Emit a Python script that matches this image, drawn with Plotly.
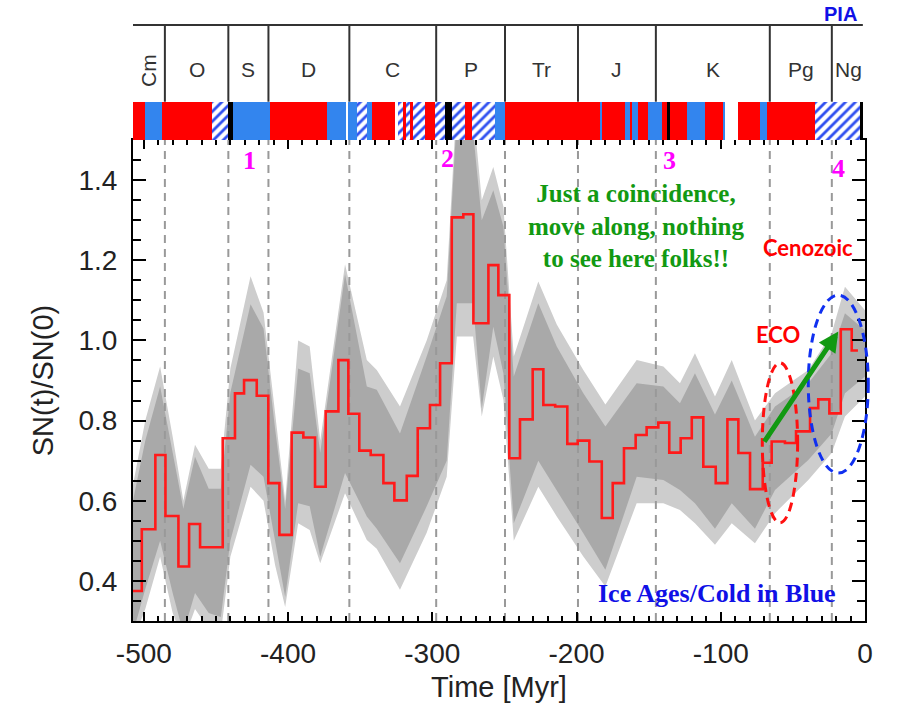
import plotly.graph_objects as go

# ---------------- data ----------------
# step curve SN(t)/SN(0): bin edges (Myr) and values
step_edges = [-507.5, -501.4, -492, -485, -476, -468.6, -461, -445.3, -436.8, -430.5,
              -421.7, -413.7, -406, -397.5, -389.4, -381.3, -373.9, -365.1, -358.2, -350.6,
              -342.7, -333.9, -326.3, -317.7, -310.1, -301.6, -294.6, -286.5, -278.5, -271.5,
              -261.1, -254.2, -246.6, -239.2, -230.4, -223, -214.8, -206.4, -199.2, -191.1,
              -182.5, -174.9, -167.1, -159, -151.4, -143.3, -135.7, -127.8, -120.1, -112.1,
              -103.5, -95.4, -87.8, -79.7, -70.9, -64.7, -55.5, -47.8, -38.1, -32.4,
              -24.7, -16.8, -9.2, -4.9]
step_values = [0.375, 0.529, 0.714, 0.562, 0.436, 0.542, 0.484, 0.756, 0.868, 0.901,
               0.862, 0.644, 0.515, 0.770, 0.758, 0.635, 0.823, 0.951, 0.817, 0.725,
               0.714, 0.644, 0.601, 0.662, 0.781, 0.839, 0.943, 1.307, 1.315, 1.043,
               1.188, 1.113, 0.706, 0.803, 0.928, 0.839, 0.835, 0.742, 0.750, 0.698,
               0.557, 0.644, 0.731, 0.764, 0.783, 0.795, 0.720, 0.756, 0.808, 0.685,
               0.644, 0.803, 0.719, 0.629, 0.695, 0.748, 0.744, 0.773, 0.831, 0.853,
               0.818, 1.028, 0.975]

# uncertainty envelopes
band_t = [-507.5, -499, -488.7, -480, -472.6, -464.5, -455, -446.6, -440, -426,
          -417, -409, -402, -393, -385, -377.7, -360.5, -345.4, -338.5, -322.4,
          -303.9, -290, -283, -271.7, -265.7, -257.7, -250.7, -243.5, -226.5, -213.7,
          -195.3, -180, -158.3, -139.8, -128.3, -117.9, -104, -92.4, -76.3, -62.4,
          -39.3, -23.1, -13.9, 0]
light_upper = [0.64, 0.80, 0.935, 0.76, 0.60, 0.74, 0.68, 0.68, 0.93, 1.16,
               1.07, 0.82, 0.60, 1.00, 0.985, 0.75, 1.19, 0.951, 0.926, 0.835,
               1.00, 1.15, 1.60, 1.58, 1.35, 1.433, 1.334, 0.96, 1.147, 1.04,
               0.926, 0.84, 0.951, 0.935, 0.893, 0.968, 0.86, 0.951, 0.80, 0.868,
               0.926, 1.018, 1.134, 1.075]
dark_upper = [0.60, 0.75, 0.885, 0.72, 0.58, 0.71, 0.63, 0.63, 0.87, 1.09,
              1.03, 0.78, 0.58, 0.93, 0.918, 0.72, 1.165, 0.885, 0.877, 0.768,
              0.96, 1.11, 1.56, 1.52, 1.30, 1.375, 1.284, 0.91, 1.093, 0.985,
              0.868, 0.785, 0.893, 0.885, 0.843, 0.918, 0.815, 0.90, 0.76, 0.835,
              0.893, 0.968, 1.068, 1.025]
dark_lower = [0.27, 0.38, 0.50, 0.37, 0.27, 0.37, 0.32, 0.31, 0.50, 0.69,
              0.66, 0.50, 0.36, 0.594, 0.586, 0.46, 0.669, 0.561, 0.53, 0.444,
              0.586, 0.70, 1.093, 1.093, 0.83, 1.034, 0.918, 0.544, 0.70, 0.627,
              0.519, 0.428, 0.66, 0.652, 0.627, 0.594, 0.53, 0.594, 0.53, 0.627,
              0.702, 0.768, 0.868, 0.91]
light_lower = [0.25, 0.33, 0.46, 0.32, 0.25, 0.33, 0.28, 0.27, 0.46, 0.635,
               0.60, 0.44, 0.335, 0.544, 0.527, 0.444, 0.619, 0.502, 0.48, 0.378,
               0.52, 0.66, 1.01, 1.01, 0.81, 0.96, 0.852, 0.50, 0.635, 0.561,
               0.461, 0.386, 0.594, 0.594, 0.577, 0.544, 0.49, 0.544, 0.494, 0.569,
               0.652, 0.719, 0.81, 0.86]

# geological periods
period_bounds = [-485.4, -441.4, -413.6, -357.5, -297.3, -249.6, -199.0, -145.0, -66.0, -23.0]
period_names = ["Cm", "O", "S", "D", "C", "P", "Tr", "J", "K", "Pg", "Ng"]

# climate band: w = warm (red), c = cold (blue), h = ice (hatched), k = black, n = none
clim_start = [-507.5, -499.0, -487.6, -452.9, -441.4, -437.9, -412.5, -373.2, -359.3, -358.4,
              -352.2, -345.2, -341.8, -325.8, -323.7, -320.3, -318.2, -315.4, -313.4, -305.0,
              -298.1, -291.2, -286.5, -277.3, -272.7, -256.5, -249.6, -183.7, -182.5, -166.4,
              -162.9, -161.8, -157.2, -150.2, -141.0, -137.5, -135.2, -123.6, -110.9, -98.2,
              -97.0, -87.8, -72.8, -68.1, -34.7, -3.5]
clim_end = [-499.0, -487.6, -452.9, -441.4, -437.9, -412.5, -373.2, -359.3, -358.4, -352.2,
            -345.2, -341.8, -325.8, -323.7, -320.3, -318.2, -315.4, -313.4, -305.0, -298.1,
            -291.2, -286.5, -277.3, -272.7, -256.5, -249.6, -183.7, -182.5, -166.4, -162.9,
            -161.8, -157.2, -150.2, -141.0, -137.5, -135.2, -123.6, -110.9, -98.2, -97.0,
            -87.8, -72.8, -68.1, -34.7, -3.5, -1.5]
clim_kind = ['w', 'c', 'w', 'h', 'k', 'c', 'w', 'c', 'n', 'c',
             'h', 'c', 'w', 'n', 'h', 'w', 'h', 'w', 'h', 'w',
             'h', 'k', 'h', 'w', 'h', 'c', 'w', 'c', 'w', 'c',
             'w', 'c', 'w', 'c', 'w', 'k', 'w', 'c', 'w', 'c',
             'n', 'w', 'c', 'w', 'h', 'k']

y_ticks = [0.4, 0.6, 0.8, 1.0, 1.2, 1.4]
x_ticks = [-500, -400, -300, -200, -100, 0]
x_tick_labels = ["-500", "-400", "-300", "-200", "-100", "0"]

# ---------------- styling ----------------
X_MIN, X_MAX = -507.5, 0
Y_MIN, Y_MAX = 0.3, 1.5
MAIN_TOP = 0.7808
BAND_TOP = 0.8430
BOX_TOP = 0.9675
SANS = "Liberation Sans, Arial, sans-serif"
SERIF = "Liberation Serif, Times New Roman, serif"
HATCH_BLUE = '#2f4ff0'
kind_color = {'w': '#ff0000', 'c': '#3385ee', 'k': 'black', 'n': 'white'}

fig = go.Figure()

# 2-sigma and 1-sigma bands
fig.add_trace(go.Scatter(x=band_t + band_t[::-1], y=light_upper + light_lower[::-1],
                         fill='toself', fillcolor='#cdcdcd', line=dict(width=0),
                         mode='lines', hoverinfo='skip', showlegend=False))
fig.add_trace(go.Scatter(x=band_t + band_t[::-1], y=dark_upper + dark_lower[::-1],
                         fill='toself', fillcolor='#a9a9a9', line=dict(width=0),
                         mode='lines', hoverinfo='skip', showlegend=False))

# dashed period boundaries
dx, dy = [], []
for b in period_bounds:
    dx += [b, b, None]
    dy += [Y_MIN, Y_MAX, None]
fig.add_trace(go.Scatter(x=dx, y=dy, mode='lines',
                         line=dict(color='#999999', width=2, dash='8px,6px'),
                         hoverinfo='skip', showlegend=False))

# red step curve
fig.add_trace(go.Scatter(x=step_edges, y=step_values + [step_values[-1]], mode='lines',
                         line=dict(color='#ff1a1a', width=2.6, shape='hv'),
                         showlegend=False))

# climate band on its own axis: solid segments
solid = [i for i, k in enumerate(clim_kind) if k != 'h']
hatch = [i for i, k in enumerate(clim_kind) if k == 'h']
fig.add_trace(go.Bar(
    orientation='h', base=[clim_start[i] for i in solid],
    x=[clim_end[i] - clim_start[i] for i in solid],
    y=[0.5] * len(solid), width=1,
    marker=dict(color=[kind_color[clim_kind[i]] for i in solid], line=dict(width=0)),
    xaxis='x', yaxis='y2', showlegend=False, hoverinfo='skip'))
# hatched segments
fig.add_trace(go.Bar(
    orientation='h', base=[clim_start[i] for i in hatch],
    x=[clim_end[i] - clim_start[i] for i in hatch],
    y=[0.5] * len(hatch), width=1,
    marker=dict(color='white', line=dict(width=0),
                pattern=dict(shape='/', fgcolor=HATCH_BLUE, bgcolor='white',
                             fgopacity=1, size=7, solidity=0.4)),
    xaxis='x', yaxis='y2', showlegend=False, hoverinfo='skip'))

# period box
shapes = [dict(type='line', xref='x', yref='paper', x0=X_MIN, x1=X_MAX - 1.5,
               y0=BOX_TOP, y1=BOX_TOP, line=dict(color='#333333', width=2))]
for b in period_bounds:
    shapes.append(dict(type='line', xref='x', yref='paper', x0=b, x1=b,
                       y0=BAND_TOP, y1=BOX_TOP, line=dict(color='#333333', width=2)))

# ellipses
shapes.append(dict(type='circle', xref='x', yref='y', x0=-71.2, x1=-46.7, y0=0.545, y1=0.944,
                   line=dict(color='#ff1010', width=3, dash='9px,6px')))
shapes.append(dict(type='circle', xref='paper', yref='y', x0=0.9225, x1=1.0045, y0=0.669, y1=1.113,
                   line=dict(color='#1030f0', width=3, dash='9px,6px')))

annotations = []
edges_all = [X_MIN] + period_bounds + [X_MAX]
for i, name in enumerate(period_names):
    mid = 0.5 * (edges_all[i] + edges_all[i + 1])
    annotations.append(dict(x=mid, y=0.8945, xref='x', yref='paper', text=name,
                            xanchor='center', yanchor='middle',
                            showarrow=False, textangle=-90 if name == 'Cm' else 0,
                            font=dict(family=SANS, size=21, color='#333333')))

for txt, xx, yy in [("1", -426.4, 1.45), ("2", -289.8, 1.455), ("3", -135.2, 1.45), ("4", -18.7, 1.43)]:
    annotations.append(dict(x=xx, y=yy, xref='x', yref='y', text='<b>%s</b>' % txt,
                            showarrow=False, font=dict(family=SERIF, size=26, color='#ff00ff')))

annotations.append(dict(x=-158.1, y=1.2855, xref='x', yref='y',
                        text='<b>Just a coincidence,<br>move along, nothing<br>to see here folks!!</b>',
                        showarrow=False, align='center',
                        font=dict(family=SERIF, size=25, color='#129912')))
annotations.append(dict(x=-39.5, y=1.233, xref='x', yref='y', text='<b>Cenozoic</b>',
                        showarrow=False, font=dict(family='Lato, ' + SANS, size=22, color='#ff0000')))
annotations.append(dict(x=-60.3, y=1.014, xref='x', yref='y', text='<b>ECO</b>',
                        showarrow=False, font=dict(family='Lato, ' + SANS, size=22, color='#ff0000')))
annotations.append(dict(x=-102.6, y=0.368, xref='x', yref='y', text='<b>Ice Ages/Cold in Blue</b>',
                        showarrow=False, font=dict(family=SERIF, size=26, color='#1010e6')))
annotations.append(dict(x=0.966, y=0.985, xref='paper', yref='paper', text='<b>PIA</b>',
                        xanchor='center', yanchor='middle',
                        showarrow=False, font=dict(family=SANS, size=20, color='#1010e6')))
# green arrow
annotations.append(dict(x=-18.5, y=1.022, ax=-70.5, ay=0.744, xref='x', yref='y',
                        axref='x', ayref='y', text='', showarrow=True, arrowhead=2,
                        arrowsize=0.8, arrowwidth=5, arrowcolor='#129912', standoff=0))

fig.update_layout(
    width=897, height=721,
    margin=dict(l=133, r=32, t=5, b=100),
    paper_bgcolor='white', plot_bgcolor='white',
    shapes=shapes, annotations=annotations,
    bargap=0, barmode='overlay', showlegend=False,
    xaxis=dict(range=[X_MIN, X_MAX], domain=[0, 1], tickvals=x_ticks, ticktext=x_tick_labels,
               ticks='inside', ticklen=9, tickwidth=2, tickcolor='black',
               showline=True, linecolor='black', linewidth=2, mirror='ticks',
               showgrid=False, zeroline=False,
               minor=dict(ticks='inside', dtick=10, ticklen=5, tickwidth=1.5, tickcolor='black'),
               tickfont=dict(family=SANS, size=28, color='#222222'),
               ticklabelstandoff=6,
               title=dict(text='Time [Myr]', font=dict(family=SANS, size=29, color='#222222'),
                          standoff=9)),
    yaxis=dict(range=[Y_MIN, Y_MAX], domain=[0, MAIN_TOP], tickvals=y_ticks, tickformat='.1f',
               ticks='inside', ticklen=13, tickwidth=2, tickcolor='black',
               showline=True, linecolor='black', linewidth=2, mirror='ticks',
               showgrid=False, zeroline=False,
               minor=dict(ticks='inside', dtick=0.05, ticklen=8, tickwidth=1.5, tickcolor='black'),
               tickfont=dict(family=SANS, size=28, color='#222222'),
               ticklabelstandoff=8,
               title=dict(text='SN(t)/SN(0)', font=dict(family=SANS, size=29, color='#222222'),
                          standoff=16)),
    yaxis2=dict(range=[0, 1], domain=[MAIN_TOP, BAND_TOP], visible=False, fixedrange=True),
)

fig.write_html("out.html", config={'displayModeBar': False},
               post_script="document.body.style.margin='0px';")
